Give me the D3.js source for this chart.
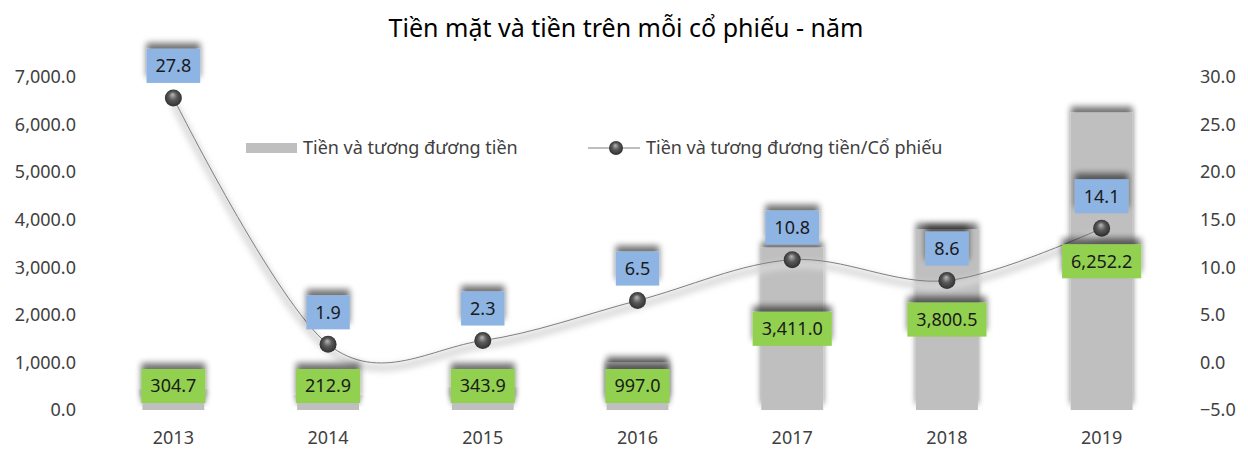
<!DOCTYPE html>
<html>
<head>
<meta charset="utf-8">
<script src="https://cdn.jsdelivr.net/npm/d3@7"></script>
<style>
  body { margin: 0; background: #fff; }
  text { font-family: 'Noto Sans', sans-serif; }
</style>
</head>
<body>
<svg id="chart" width="1248" height="449"></svg>
<script>
// chart data
var years = ['2013', '2014', '2015', '2016', '2017', '2018', '2019'];
var cash = [304.7, 212.9, 343.9, 997.0, 3411.0, 3800.5, 6252.2];
var cashPerShare = [27.8, 1.9, 2.3, 6.5, 10.8, 8.6, 14.1];
var leftTicks = [0, 1000, 2000, 3000, 4000, 5000, 6000, 7000];
var rightTicks = [-5, 0, 5, 10, 15, 20, 25, 30];
var titleText = 'Tiền mặt và tiền trên mỗi cổ phiếu - năm';
var seriesNames = ['Tiền và tương đương tiền', 'Tiền và tương đương tiền/Cổ phiếu'];

var svg = d3.select('#chart');
var defs = svg.append('defs');

// shadow cast upwards, like the excel effect
var sh = defs.append('filter').attr('id', 'shadowUp')
    .attr('x', '-20%').attr('y', '-40%').attr('width', '140%').attr('height', '160%');
sh.append('feGaussianBlur').attr('in', 'SourceAlpha').attr('stdDeviation', 3).attr('result', 'b');
sh.append('feOffset').attr('in', 'b').attr('dy', -6).attr('result', 'o');
sh.append('feComponentTransfer').attr('in', 'o').attr('result', 'o2')
  .append('feFuncA').attr('type', 'linear').attr('slope', 0.55);
var m = sh.append('feMerge');
m.append('feMergeNode').attr('in', 'o2');
m.append('feMergeNode').attr('in', 'SourceGraphic');

var soft = defs.append('filter').attr('id', 'glow')
    .attr('x', '-10%').attr('y', '-50%').attr('width', '120%').attr('height', '200%');
soft.append('feGaussianBlur').attr('stdDeviation', 3);

var grad = defs.append('radialGradient').attr('id', 'ball')
    .attr('cx', '50%').attr('cy', '50%').attr('r', '55%')
    .attr('fx', '45%').attr('fy', '30%');
grad.append('stop').attr('offset', '0%').attr('stop-color', '#b8b8b8');
grad.append('stop').attr('offset', '45%').attr('stop-color', '#5a5a5a');
grad.append('stop').attr('offset', '100%').attr('stop-color', '#2a2a2a');

var x = d3.scaleBand().domain(years).range([96, 1179])
    .paddingInner(0.6).paddingOuter(0.3);
var yL = d3.scaleLinear().domain([0, 7000]).range([410, 77]);
var yR = d3.scaleLinear().domain([-5, 30]).range([410, 77]);

// title
svg.append('text')
   .attr('x', 626).attr('y', 37)
   .attr('text-anchor', 'middle')
   .attr('font-size', '25px')
   .attr('fill', '#000')
   .text(titleText);

// axes (text only)
var leftAxis = d3.axisLeft(yL).tickValues(leftTicks).tickFormat(d3.format(',.1f')).tickSize(0).tickPadding(0);
var gl = svg.append('g').attr('transform', 'translate(76,0)').call(leftAxis);
var rightAxis = d3.axisRight(yR).tickValues(rightTicks).tickFormat(d3.format('.1f')).tickSize(0).tickPadding(0);
var gr = svg.append('g').attr('transform', 'translate(1200,0)').call(rightAxis);
var bottomAxis = d3.axisBottom(x).tickSize(0).tickPadding(0);
var gb = svg.append('g').attr('transform', 'translate(0,431)').call(bottomAxis);
[gl, gr, gb].forEach(function(g) {
  g.select('.domain').remove();
  g.selectAll('text')
   .attr('font-family', 'Noto Sans')
   .attr('font-size', '18px')
   .attr('fill', '#404040');
});
gb.selectAll('text').attr('dy', '0.71em');

// bars
svg.selectAll('rect.bar')
   .data(cash)
   .enter()
   .append('rect')
   .attr('class', 'bar')
   .attr('x', (d, i) => x(years[i]))
   .attr('y', d => yL(d))
   .attr('width', x.bandwidth())
   .attr('height', d => yL(0) - yL(d))
   .attr('fill', '#bfbfbf')
   .attr('filter', 'url(#shadowUp)');

// line
var pts = cashPerShare.map((d, i) => [x(years[i]) + x.bandwidth() / 2, yR(d)]);
var line = d3.line().curve(d3.curveCardinal.tension(0));
svg.append('path')
   .attr('d', line(pts))
   .attr('fill', 'none')
   .attr('stroke', '#d8d8d8')
   .attr('stroke-width', 7)
   .attr('transform', 'translate(0,5)')
   .attr('filter', 'url(#glow)');
svg.append('path')
   .attr('d', line(pts))
   .attr('fill', 'none')
   .attr('stroke', '#7f7f7f')
   .attr('stroke-width', 1);

svg.selectAll('circle.pt')
   .data(pts)
   .enter()
   .append('circle')
   .attr('class', 'pt')
   .attr('cx', d => d[0])
   .attr('cy', d => d[1])
   .attr('r', 8.5)
   .attr('fill', 'url(#ball)');

// data labels
function addLabel(cx, cy, txt, fill) {
  var g = svg.append('g');
  var rect = g.append('rect').attr('fill', fill).attr('filter', 'url(#shadowUp)');
  var t = g.append('text')
      .attr('x', cx).attr('y', cy)
      .attr('dy', '0.35em')
      .attr('text-anchor', 'middle')
      .attr('font-size', '18px')
      .attr('fill', '#1a1a1a')
      .text(txt);
  var w = t.node().getComputedTextLength() + 18;
  rect.attr('x', cx - w / 2).attr('y', cy - 17).attr('width', w).attr('height', 34);
}

cash.forEach(function(d, i) {
  var cx = x(years[i]) + x.bandwidth() / 2;
  var cy = Math.min((yL(d) + yL(0)) / 2, 386);
  addLabel(cx, cy, d3.format(',.1f')(d), '#92d050');
});
cashPerShare.forEach(function(d, i) {
  addLabel(pts[i][0], pts[i][1] - 32, d3.format('.1f')(d), '#8eb4e3');
});

// legend
var lg = svg.append('g');
lg.append('rect').attr('x', 246).attr('y', 143).attr('width', 51).attr('height', 10).attr('fill', '#bfbfbf');
lg.append('text').attr('x', 303).attr('y', 148).attr('dy', '0.35em')
  .attr('font-size', '18px').attr('fill', '#404040').text(seriesNames[0]);
lg.append('line').attr('x1', 588).attr('x2', 640).attr('y1', 148).attr('y2', 148)
  .attr('stroke', '#7f7f7f').attr('stroke-width', 1);
lg.append('circle').attr('cx', 616).attr('cy', 148).attr('r', 7).attr('fill', 'url(#ball)');
lg.append('text').attr('x', 646).attr('y', 148).attr('dy', '0.35em')
  .attr('font-size', '18px').attr('fill', '#404040').text(seriesNames[1]);
</script>
</body>
</html>
